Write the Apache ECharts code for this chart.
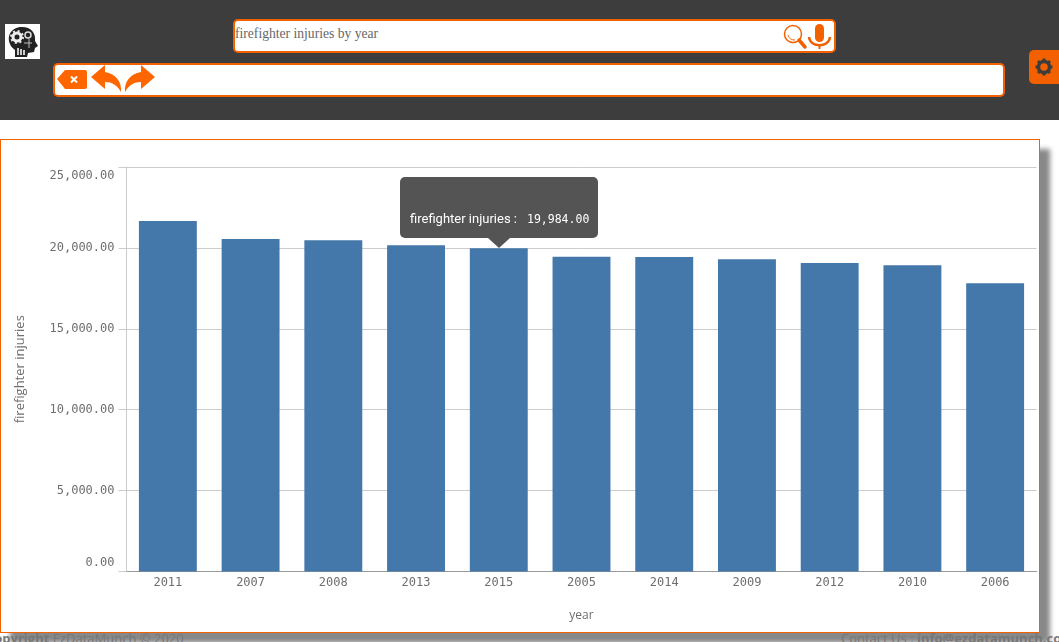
<!DOCTYPE html>
<html>
<head>
<meta charset="utf-8">
<title>firefighter injuries by year</title>
<script src="https://cdn.jsdelivr.net/npm/echarts@6/dist/echarts.min.js"></script>
<style>
  html, body { margin: 0; padding: 0; width: 1059px; height: 642px; overflow: hidden; background: #fff; }
  .abs { position: absolute; box-sizing: border-box; }
  #header { left: 0; top: 0; width: 1059px; height: 120px; background: #3d3d3d; }
  #logo { left: 5px; top: 24px; width: 35px; height: 35px; background: #fff; }
  .box { background: #fff; border: 2px solid #f26000; border-radius: 5px; }
  #search { left: 233px; top: 19px; width: 603px; height: 34px; }
  #query { left: 235px; top: 26px; font: 13.6px/16px "Liberation Serif", serif; color: #666; white-space: nowrap; }
  #crumbs { left: 53px; top: 63px; width: 952px; height: 34px; }
  #settings { left: 1029px; top: 50px; width: 30px; height: 34px; background: #f26000; border-radius: 5px 0 0 5px; }
  #shadow { left: 0; top: 139px; width: 1040px; height: 494px; box-shadow: 10px 10px 5px #888; }
  .foot { top: 630px; font: 13px/16px "Open Sans", sans-serif; color: #777; white-space: nowrap; }
  #card { left: 0; top: 139px; width: 1040px; height: 494px; background: #fff; border: 1px solid #f26000; }
  #chart { left: 0; top: 0; width: 1038px; height: 492px; }
</style>
</head>
<body>
<div id="header" class="abs"></div>
<div id="logo" class="abs">
  <svg width="35" height="35" viewBox="0 0 35 35">
    <path d="M5 20 C1 10 8 3 17 3 C26 3 31 9 30 17 L33 22 L30 24 L29 28 L23 29 L22 33 L10 33 L10 26 C8 24 6 23 5 20Z" fill="#222"/>
    <circle cx="12" cy="13" r="4" fill="none" stroke="#eee" stroke-width="3"/>
    <circle cx="12" cy="13" r="6" fill="none" stroke="#eee" stroke-width="2" stroke-dasharray="2 2.700"/>
    <circle cx="23" cy="11" r="3" fill="none" stroke="#ddd" stroke-width="1.500"/>
    <path d="M13 24v7M16 25v6M19 26v5" stroke="#ccc" stroke-width="2"/>
    <path d="M24 15v9M19 19h8" stroke="#bbb" stroke-width="1"/>
  </svg>
</div>
<div id="search" class="abs box"></div>
<div id="query" class="abs">firefighter injuries by year</div>
<svg class="abs" style="left:782px;top:22px" width="50" height="30" viewBox="0 0 50 30">
  <circle cx="11" cy="12" r="8.500" fill="none" stroke="#f26000" stroke-width="1.500"/>
  <path d="M6 13 C7 17 10 18 13 18" fill="none" stroke="#f26000"/>
  <path d="M17 18 L23 25" stroke="#f26000" stroke-width="3.500" stroke-linecap="round"/>
  <rect x="33" y="2" width="9" height="18" rx="4.500" fill="#f26000"/>
  <path d="M27 15 C28 26 47 26 48 15" fill="none" stroke="#f26000" stroke-width="2.500"/>
  <path d="M37.500 23 V27" stroke="#f26000" stroke-width="2"/>
</svg>
<div id="crumbs" class="abs box"></div>
<svg class="abs" style="left:56px;top:64px" width="105" height="32" viewBox="0 0 105 32">
  <path d="M1 15 L9 6 H29 Q31 6 31 8 V23 Q31 25 29 25 H9 Z" fill="#ff6600"/>
  <path d="M15 12.500 L21 18.500 M21 12.500 L15 18.500" stroke="#fff" stroke-width="2"/>
  <path d="M35 13 L49 1 V8 C60 10 66 18 65 28 C61 21 56 18 49 18 V25 Z" fill="#ff6600"/>
  <path d="M99 13 L85 1 V8 C74 10 68 18 69 28 C73 21 78 18 85 18 V25 Z" fill="#ff6600"/>
</svg>
<div id="settings" class="abs">
  <svg width="30" height="34" viewBox="0 0 30 34">
    <circle cx="15" cy="17" r="5.500" fill="none" stroke="#3d3d3d" stroke-width="3.500"/>
    <path d="M15 8.500v3.500M15 22v3.500M6.500 17h3.500M20 17h3.500M9 11l2.500 2.500M18.500 20.500l2.500 2.500M21 11l-2.500 2.500M11.500 20.500l-2.500 2.500" stroke="#3d3d3d" stroke-width="3"/>
  </svg>
</div>
<div id="shadow" class="abs"></div>
<div class="abs foot" style="left:-14px"><b>Copyright</b> EzDataMunch © 2020</div>
<div class="abs foot" style="left:841px">Contact Us : <b>info@ezdatamunch.com</b></div>
<div id="card" class="abs"><div id="chart" class="abs"></div></div>

<script>
// Injuries per year, sorted from highest to lowest
const years = ['2011', '2007', '2008', '2013', '2015', '2005', '2014', '2009', '2012', '2010', '2006'];
const injuries = [21660, 20550, 20480, 20170, 19984, 19460, 19430, 19300, 19060, 18935, 17820];
const highlighted = 4;
const measureName = 'firefighter injuries';

const grey = '#6e6e6e';
const monoFont = 'DejaVu Sans Mono';
const money = v => v.toLocaleString('en-US', { minimumFractionDigits: 2, maximumFractionDigits: 2 });

const chart = echarts.init(document.getElementById('chart'), null, { renderer: 'canvas' });
chart.setOption({
  animation: false,
  grid: { left: 125.5, top: 27, width: 910, height: 404.5, containLabel: false },
  tooltip: {
    trigger: 'item',
    alwaysShowContent: true,
    transitionDuration: 0,
    // Sits centred above the bar, with its pointer touching the bar's top edge
    position: (point, params, dom, rect) => [rect.x + rect.width / 2 - 99, Math.round(rect.y) - 71],
    backgroundColor: 'transparent',
    borderWidth: 0,
    padding: 0,
    extraCssText: 'box-shadow:none;',
    formatter: p =>
      '<div style="position:relative;width:198px;height:61px;box-sizing:border-box;padding:33px 0 0 10px;' +
      'background:#545454;border-radius:5px;color:#fff;font:13px/18px Roboto,sans-serif;white-space:nowrap">' +
      measureName + ' :' +
      '<span style="position:absolute;left:127px;font:11.5px/18px \'' + monoFont + '\',monospace">' + money(p.value) + '</span>' +
      '<div style="position:absolute;left:88px;top:61px;width:0;height:0;border-left:11px solid transparent;' +
      'border-right:11px solid transparent;border-top:10px solid #545454"></div></div>'
  },
  xAxis: {
    type: 'category',
    data: years,
    name: 'year',
    nameLocation: 'middle',
    nameGap: 38,
    nameTextStyle: { color: grey, fontFamily: 'Open Sans', fontSize: 12 },
    axisLine: { lineStyle: { color: '#999' } },
    axisTick: { show: false },
    axisLabel: { color: grey, fontFamily: monoFont, fontSize: 12, margin: 5 }
  },
  yAxis: {
    type: 'value',
    min: 0,
    max: 25000,
    interval: 5000,
    name: measureName,
    nameLocation: 'middle',
    nameGap: 100,
    nameTextStyle: { color: grey, fontFamily: 'Open Sans', fontSize: 13 },
    axisLine: { show: true, lineStyle: { color: '#ccc' } },
    axisTick: { show: true, length: 8, lineStyle: { color: '#ccc' } },
    splitLine: { lineStyle: { color: '#ccc' } },
    axisLabel: {
      color: grey, fontFamily: monoFont, fontSize: 12, margin: 12, lineHeight: 18,
      verticalAlignMinLabel: 'bottom', verticalAlignMaxLabel: 'top',
      formatter: money
    }
  },
  series: [{
    type: 'bar',
    data: injuries,
    barWidth: '70%',
    itemStyle: { color: '#4477aa' },
    emphasis: { disabled: true }
  }]
});
chart.dispatchAction({ type: 'showTip', seriesIndex: 0, dataIndex: highlighted });
</script>
</body>
</html>
